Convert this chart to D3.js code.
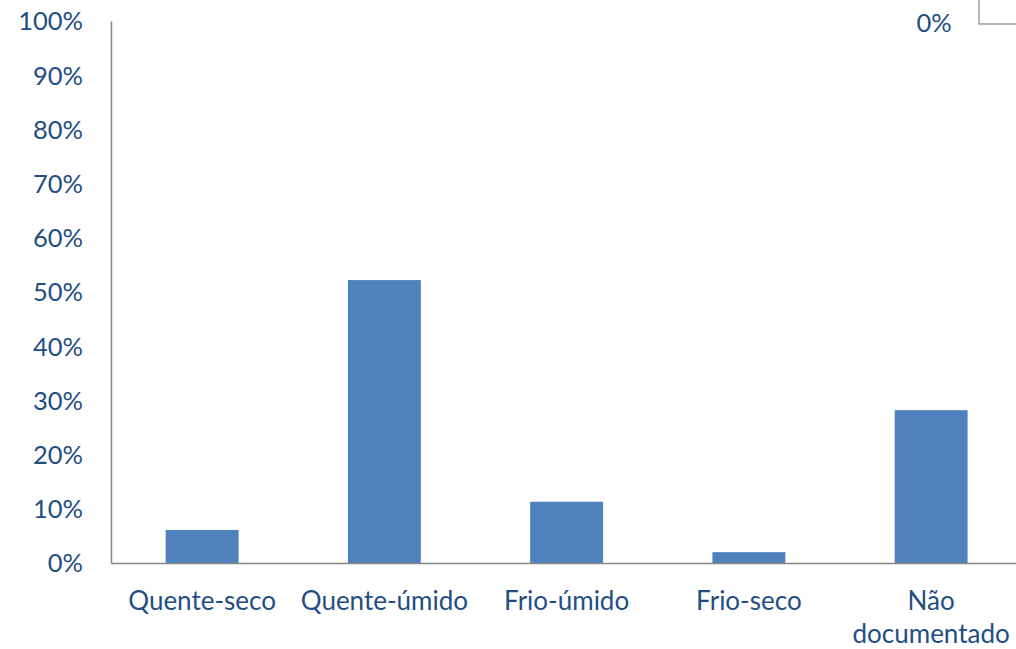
<!DOCTYPE html>
<html><head><meta charset="utf-8">
<script src="https://cdn.jsdelivr.net/npm/d3@7"></script>
<style>body{margin:0;background:#fff}svg{display:block}</style>
</head><body>
<script>
const categories = [["Quente-seco"], ["Quente-úmido"], ["Frio-úmido"], ["Frio-seco"], ["Não", "documentado"]];
const values = [0.061, 0.522, 0.113, 0.020, 0.282];
const yTicks = [0, 0.1, 0.2, 0.3, 0.4, 0.5, 0.6, 0.7, 0.8, 0.9, 1.0];
const strayLabel = "0%";

const W = 1016, H = 649;
const FONT = "Lato, 'Open Sans', sans-serif";
const textColor = "#1f4e84";
const barColor = "#4f81bd";
const axisColor = "#868686";

const svg = d3.select("body").append("svg").attr("width", W).attr("height", H);

const x = d3.scaleBand().domain(categories.map((d, i) => i))
  .range([111, 1022.25]).paddingInner(0.6).paddingOuter(0.3);
const y = d3.scaleLinear().domain([0, 1]).range([563, 21]);

svg.selectAll("rect.bar").data(values).join("rect")
  .attr("fill", barColor)
  .attr("x", (d, i) => x(i)).attr("width", x.bandwidth())
  .attr("y", d => y(d)).attr("height", d => y(0) - y(d));

// Y axis
const yAxis = d3.axisLeft(y).tickValues(yTicks).tickFormat(d3.format(".0%")).tickSize(0).tickPadding(28);
const gy = svg.append("g").attr("transform", "translate(111,0)").call(yAxis);
gy.select(".domain").attr("stroke", axisColor).attr("stroke-width", 1.5);
gy.selectAll("text").attr("font-family", FONT).attr("font-size", 25.5).attr("fill", textColor).attr("dy", "0.35em");

// X axis
const xAxis = d3.axisBottom(x).tickSize(0).tickFormat("");
const gx = svg.append("g").attr("transform", "translate(0,563)").call(xAxis);
gx.select(".domain").attr("stroke", axisColor).attr("stroke-width", 1.5);

svg.selectAll("text.xl").data(categories).join("text")
  .attr("font-family", FONT).attr("font-size", 26).attr("fill", textColor)
  .attr("text-anchor", "middle")
  .attr("transform", (d, i) => `translate(${x(i) + x.bandwidth() / 2},610)`)
  .selectAll("tspan").data(d => d).join("tspan")
  .attr("x", 0).attr("dy", (d, j) => j === 0 ? 0 : 33).text(d => d);

// stray top-right label and box
svg.append("text").attr("x", 934).attr("y", 32).attr("text-anchor", "middle")
  .attr("font-family", FONT).attr("font-size", 25.5).attr("fill", textColor).text(strayLabel);
svg.append("path").attr("d", "M979,0 V24 H1016").attr("fill", "none").attr("stroke", "#a0a0a0").attr("stroke-width", 1.5);
</script>
</body></html>
